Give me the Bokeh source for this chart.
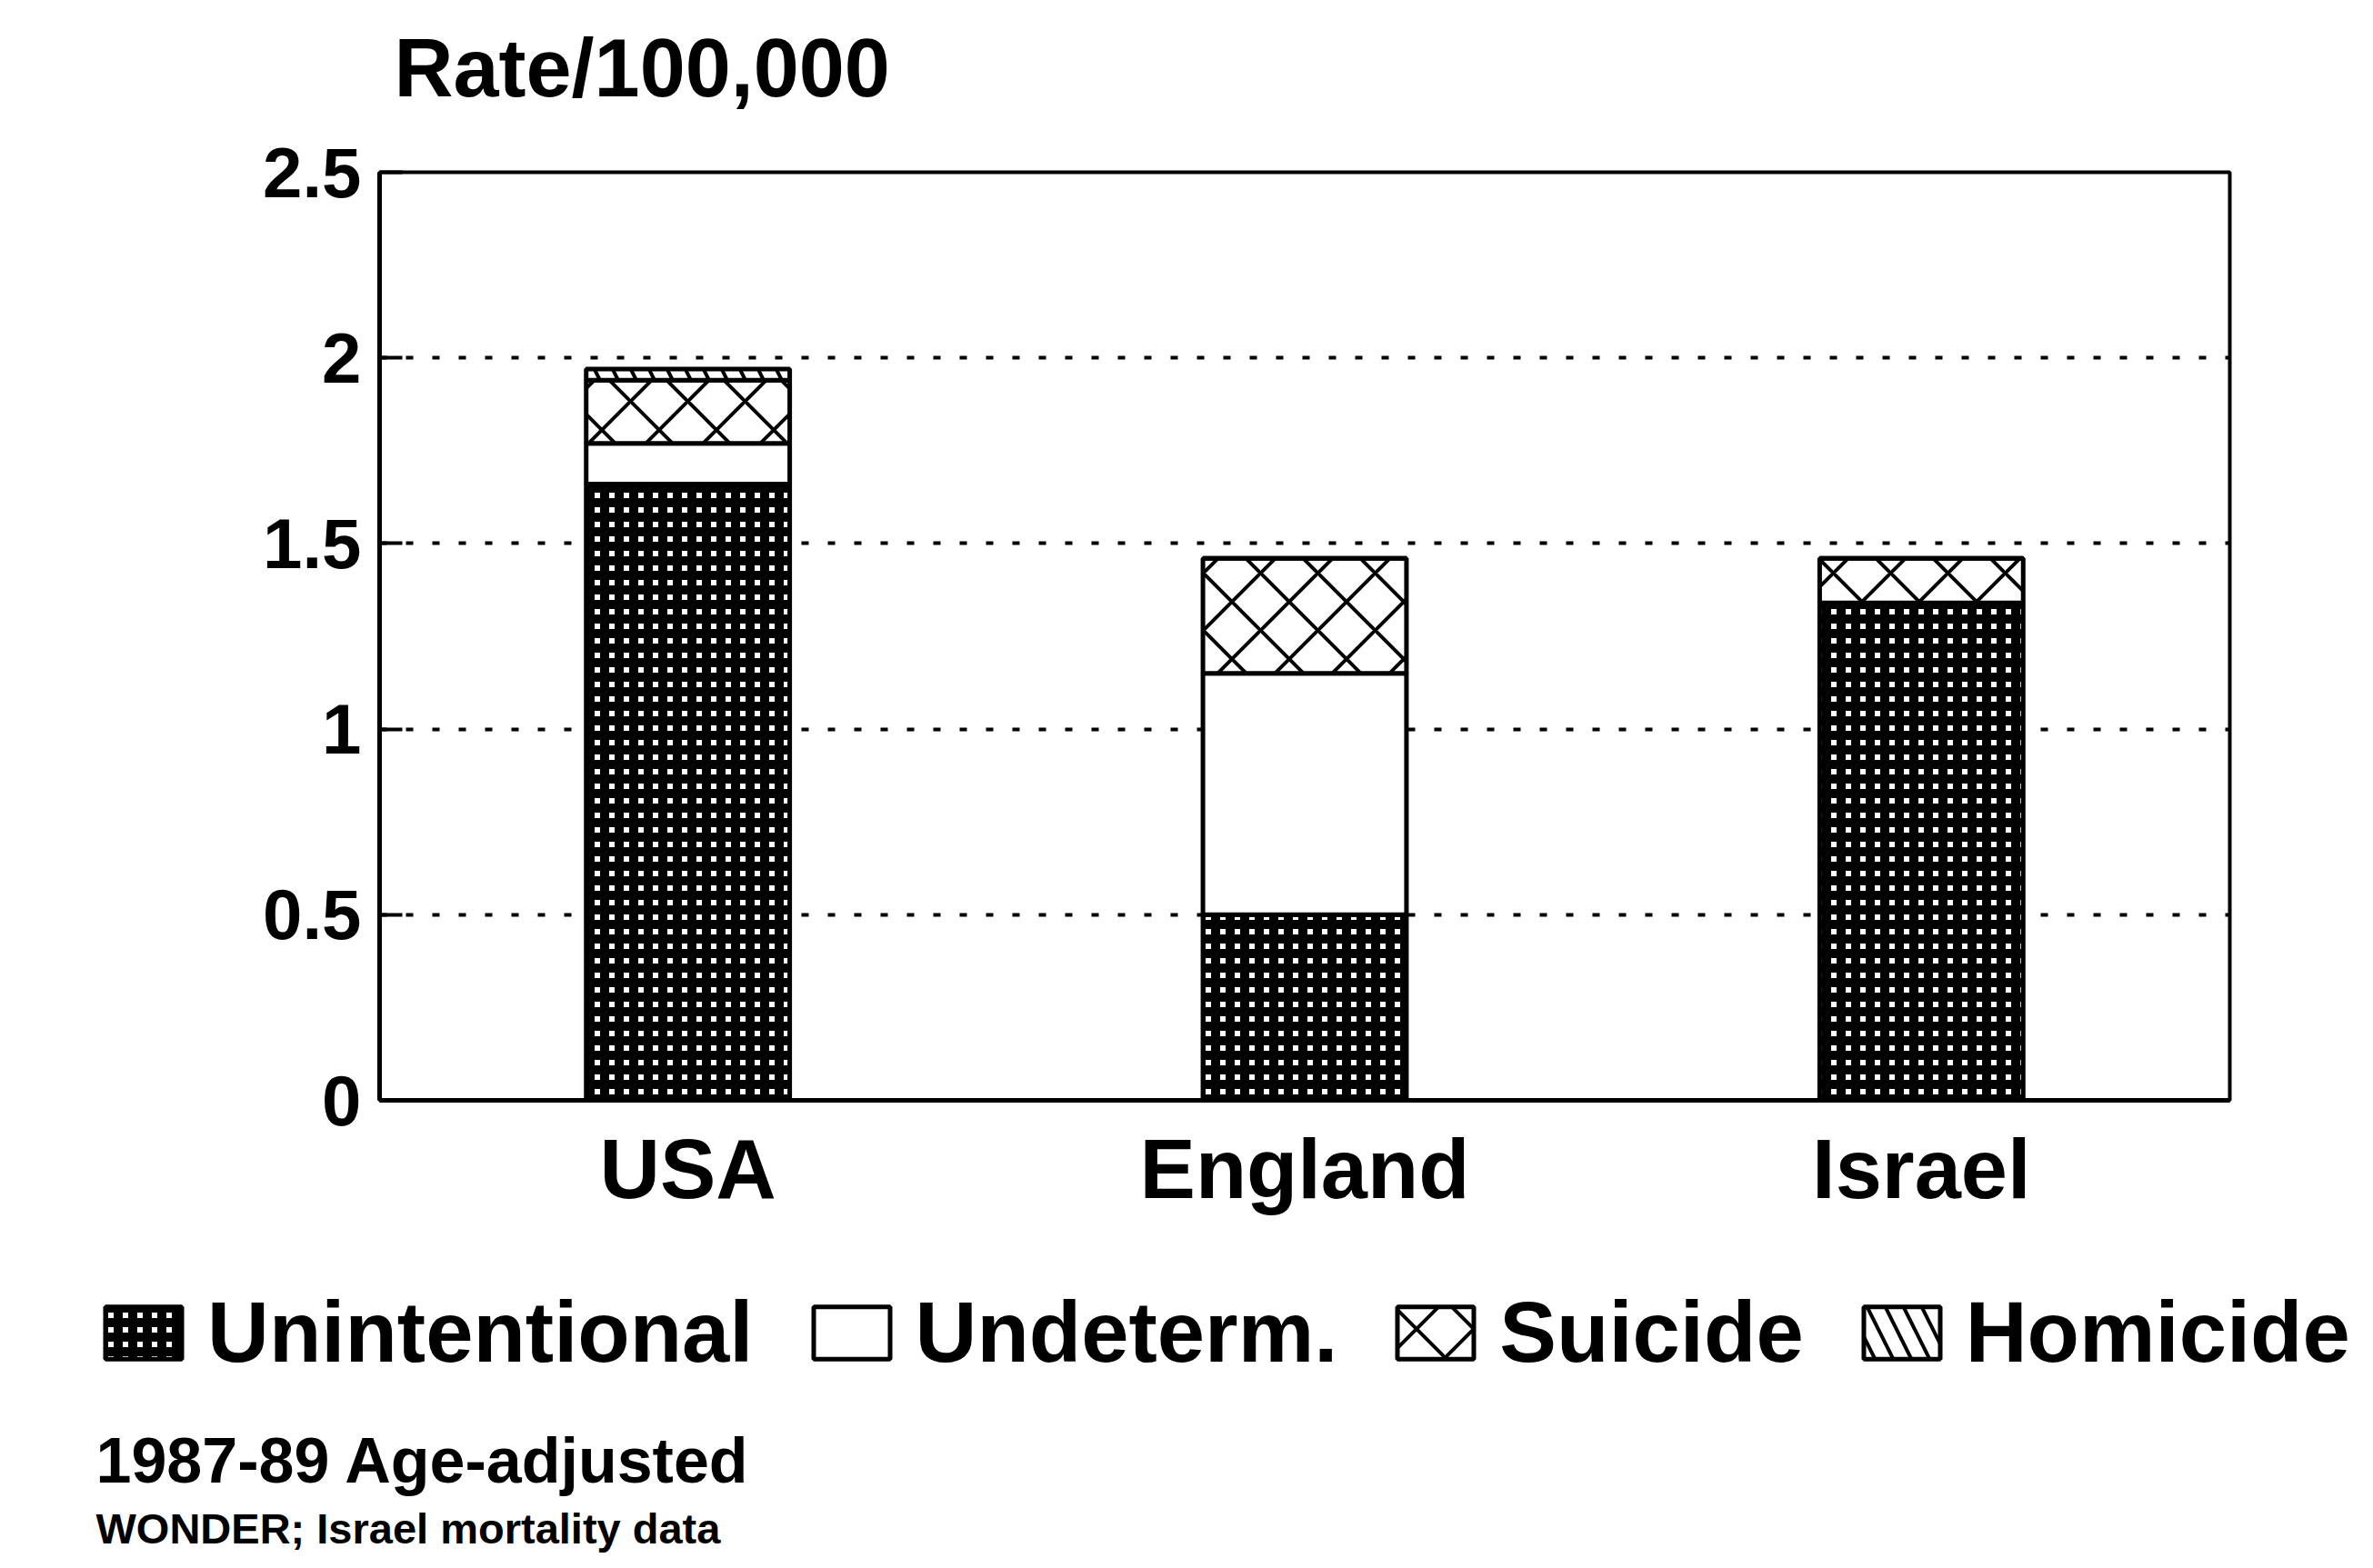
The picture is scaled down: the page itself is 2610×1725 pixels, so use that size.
from bokeh.plotting import figure
from bokeh.models import ColumnDataSource, Range1d, FixedTicker, Label, Title, Legend, LegendItem
from bokeh.embed import file_html
from bokeh.resources import INLINE

# ---- data ----
categories = ["USA", "England", "Israel"]
unintentional = [1.66, 0.50, 1.34]
undetermined = [0.11, 0.65, 0.00]
suicide = [0.17, 0.31, 0.12]
homicide = [0.03, 0.00, 0.00]
series_keys = ["unintentional", "undetermined", "suicide", "homicide"]
series_names = ["Unintentional", "Undeterm.", "Suicide", "Homicide"]
y_ticks = [0, 0.5, 1, 1.5, 2, 2.5]
y_tick_labels = ["0", "0.5", "1", "1.5", "2", "2.5"]
y_axis_title = "Rate/100,000"
note_line1 = "1987-89 Age-adjusted"
note_line2 = "WONDER; Israel mortality data"

# ---- styles ----
FONT = "Liberation Sans"
hatch_patterns = ["cross", None, "diagonal_cross", "left_diagonal_line"]
hatch_scales = [16, 10, 63, 40]
hatch_weights = [10, 1, 4, 4]
bar_style = dict(width=0.33, fill_color="white", hatch_pattern=hatch_patterns,
                 hatch_color="black", hatch_scale=hatch_scales, hatch_weight=hatch_weights,
                 line_color="black", line_width=5)

source = ColumnDataSource(dict(
    country=categories,
    unintentional=unintentional,
    undetermined=undetermined,
    suicide=suicide,
    homicide=homicide,
))

W = 2594
p = figure(
    x_range=categories, y_range=Range1d(0, 2.5),
    width=W, height=1373,
    output_backend="svg", toolbar_location=None, title_location=None,
    min_border_left=417, min_border_right=142,
    min_border_top=189, min_border_bottom=163,
)

p.vbar_stack(series_keys, x="country", source=source, **bar_style)

# axes
p.yaxis.ticker = FixedTicker(ticks=y_ticks)
p.yaxis.major_label_overrides = {float(t): l for t, l in zip(y_ticks, y_tick_labels)}
p.yaxis.major_label_text_font = FONT
p.yaxis.major_label_text_font_size = "78px"
p.yaxis.major_label_text_font_style = "bold"
p.yaxis.major_label_text_color = "black"
p.yaxis.major_label_standoff = 20
p.yaxis.major_tick_in = 25
p.yaxis.major_tick_out = 0
p.yaxis.major_tick_line_width = 4
p.yaxis.major_tick_line_color = "black"
p.yaxis.minor_tick_line_color = None
p.yaxis.axis_line_width = 5
p.yaxis.axis_line_color = "black"

p.xaxis.major_tick_line_color = None
p.xaxis.minor_tick_line_color = None
p.xaxis.major_label_text_font = FONT
p.xaxis.major_label_text_font_size = "92px"
p.xaxis.major_label_text_font_style = "bold"
p.xaxis.major_label_text_color = "black"
p.xaxis.major_label_standoff = 18
p.xaxis.axis_line_width = 5
p.xaxis.axis_line_color = "black"

p.xgrid.grid_line_color = None
p.ygrid.grid_line_color = "black"
p.ygrid.grid_line_dash = "8 21"
p.ygrid.grid_line_width = 4

p.outline_line_color = "black"
p.outline_line_width = 4
p.background_fill_color = "white"
p.border_fill_color = "white"

# spacer (nearest the frame), then the axis title further up
p.add_layout(Title(text=" ", standoff=12, text_font_size="40px"), "above")
p.add_layout(Title(text=y_axis_title, align="left", offset=16, standoff=10,
                   vertical_align="top",
                   text_font=FONT, text_font_size="90px", text_font_style="bold",
                   text_color="black"), "above")

# ---- lower panel: legend and source notes ----
H2 = 350
q = figure(
    x_range=categories, y_range=Range1d(0, H2),
    width=W, height=H2,
    output_backend="svg", toolbar_location=None, title_location=None,
    x_axis_type=None, y_axis_type=None,
    min_border_left=0, min_border_right=0, min_border_top=0, min_border_bottom=0,
)
q.xgrid.grid_line_color = None
q.ygrid.grid_line_color = None
q.outline_line_color = None
q.background_fill_color = "white"
q.border_fill_color = "white"

# same bars, hidden, only to feed the legend swatches
proxies = q.vbar_stack(series_keys, x="country", source=source, visible=False, **bar_style)
items = [LegendItem(label=name, renderers=[r]) for name, r in zip(series_names, proxies)]

lg = Legend(items=items, location=(105, 203), orientation="horizontal",
            glyph_width=105, glyph_height=72,
            label_text_font=FONT, label_text_font_size="94px", label_text_font_style="bold",
            label_text_color="black",
            label_standoff=18, spacing=55, padding=0, margin=0, label_height=100,
            border_line_color=None, background_fill_alpha=0, inactive_fill_alpha=0)
q.add_layout(lg, "center")

q.add_layout(Label(x=105, y=117, x_units="screen", y_units="screen",
                   text=note_line1, text_font=FONT, text_font_size="70px",
                   text_font_style="bold", text_color="black",
                   text_baseline="middle", text_align="left"))
q.add_layout(Label(x=105, y=42, x_units="screen", y_units="screen",
                   text=note_line2, text_font=FONT, text_font_size="47px",
                   text_font_style="bold", text_color="black",
                   text_baseline="middle", text_align="left"))

open("out.html", "w").write(file_html([p, q], INLINE))
